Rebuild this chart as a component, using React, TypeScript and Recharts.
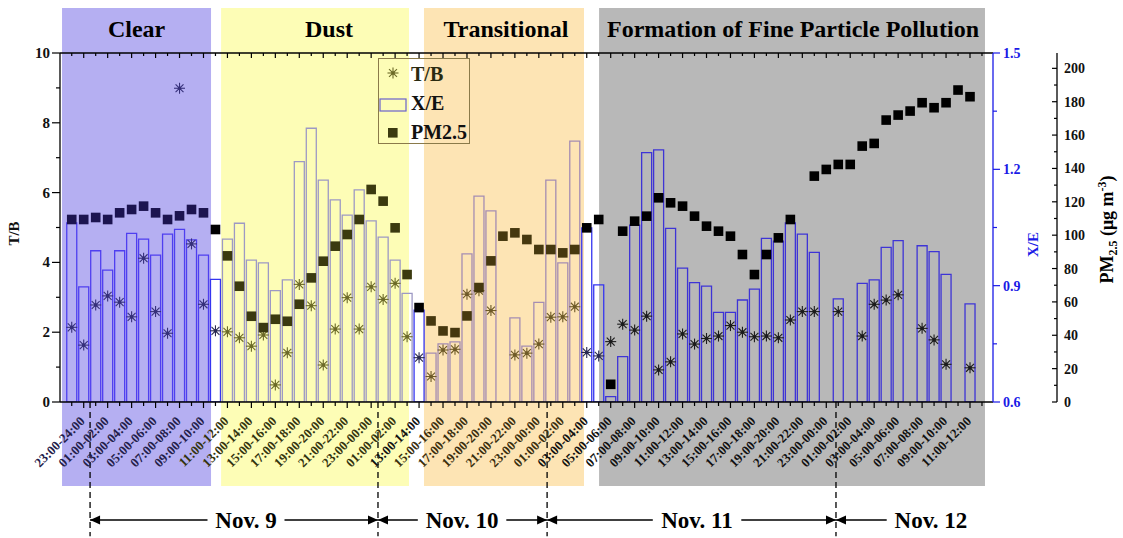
import React from 'react';
import {
  ComposedChart,
  Bar,
  Scatter,
  XAxis,
  YAxis,
  ReferenceArea,
  ReferenceLine,
  Legend,
  Cell,
} from 'recharts';

// ---------- data ----------
const hourLabels: string[] = [
  '22:00-23:00', '23:00-24:00', '00:00-01:00', '01:00-02:00', '02:00-03:00', '03:00-04:00',
  '04:00-05:00', '05:00-06:00', '06:00-07:00', '07:00-08:00', '08:00-09:00', '09:00-10:00',
  '10:00-11:00', '11:00-12:00', '12:00-13:00', '13:00-14:00', '14:00-15:00', '15:00-16:00',
  '16:00-17:00', '17:00-18:00', '18:00-19:00', '19:00-20:00', '20:00-21:00', '21:00-22:00',
  '22:00-23:00', '23:00-00:00', '00:00-01:00', '01:00-02:00', '12:00-13:00', '13:00-14:00',
  '14:00-15:00', '15:00-16:00', '16:00-17:00', '17:00-18:00', '18:00-19:00', '19:00-20:00',
  '20:00-21:00', '21:00-22:00', '22:00-23:00', '23:00-00:00', '00:00-01:00', '01:00-02:00',
  '02:00-03:00', '03:00-04:00', '04:00-05:00', '05:00-06:00', '06:00-07:00', '07:00-08:00',
  '08:00-09:00', '09:00-10:00', '10:00-11:00', '11:00-12:00', '12:00-13:00', '13:00-14:00',
  '14:00-15:00', '15:00-16:00', '16:00-17:00', '17:00-18:00', '18:00-19:00', '19:00-20:00',
  '20:00-21:00', '21:00-22:00', '22:00-23:00', '23:00-00:00', '00:00-01:00', '01:00-02:00',
  '02:00-03:00', '03:00-04:00', '04:00-05:00', '05:00-06:00', '06:00-07:00', '07:00-08:00',
  '08:00-09:00', '09:00-10:00', '10:00-11:00', '11:00-12:00', '12:00-13:00',
];

// X/E ratio (bars, right blue axis)
const xeValues: (number | null)[] = [
  1.062, 0.897, 0.99, 0.94, 0.99, 1.035, 1.02, 0.979, 1.033, 1.045, 1.018, 0.979,
  0.916, 1.02, 1.061, 0.966, 0.959, 0.887, 0.915, 1.22, 1.306, 1.172, 1.121, 1.082,
  1.147, 1.067, 1.025, 0.966, 0.88, 0.837, 0.726, 0.75, 0.755, 0.982, 1.131, 1.093,
  null, 0.817, 0.744, 0.857, 1.172, 0.959, 1.273, 1.049, 0.902, 0.614, 0.717, 1.056,
  1.243, 1.25, 1.048, 0.945, 0.908, 0.899, 0.831, 0.831, 0.863, 0.891, 1.022, 1.015,
  1.062, 1.033, 0.986, null, 0.866, null, 0.906, 0.915, 0.999, 1.016, null, 1.003,
  0.988, 0.929, null, 0.853, null,
];

// T/B ratio (stars, left axis)
const tbValues: (number | null)[] = [
  2.14, 1.63, 2.78, 3.04, 2.86, 2.44, 4.12, 2.59, 1.97, 8.99, 4.53, 2.8,
  2.04, 2.01, 1.84, 1.6, 1.92, 0.49, 1.41, 3.37, 2.76, 1.06, 2.09, 2.99,
  2.09, 3.3, 2.94, 3.4, 1.87, 1.27, 0.73, 1.49, 1.51, 3.09, 3.19, 2.62,
  null, 1.35, 1.4, 1.66, 2.43, 2.44, 2.73, 1.42, 1.32, 1.73, 2.23, 2.06,
  2.46, 0.92, 1.15, 1.95, 1.66, 1.82, 1.89, 2.19, 2.0, 1.87, 1.89, 1.84,
  2.35, 2.59, 2.59, null, 2.59, null, 1.89, 2.8, 2.92, 3.07, null, 2.11,
  1.78, 1.08, null, 0.98, null,
];

// PM2.5 (squares, far-right axis, ug m-3)
const pmValues: (number | null)[] = [
  109.4, 109.4, 110.6, 109.4, 113.4, 115.4, 117.4, 113.4, 109.4, 111.6, 115.4, 113.4,
  103.4, 87.6, 69.4, 51.4, 44.6, 49.6, 48.4, 58.6, 74.4, 84.4, 93.4, 100.4,
  109.4, 127.4, 120.4, 104.4, 76.4, 56.6, 48.6, 42.6, 41.6, 51.6, 68.6, 84.6,
  99.4, 101.4, 97.4, 91.4, 91.4, 89.4, 91.4, 104.4, 109.4, 10.6, 102.4, 108.4,
  111.4, 122.4, 119.4, 117.4, 111.4, 105.4, 102.4, 99.4, 88.4, 76.4, 88.4, 98.4,
  109.4, null, 135.4, 139.4, 142.4, 142.4, 153.4, 155.0, 169.0, 172.0, 174.4, 179.4,
  176.4, 179.4, 187.0, 183.0, null,
];

const tbTicks = [0, 1, 2, 3, 4, 5, 6, 7, 8, 9, 10];
const xeTicks = [0.6, 0.75, 0.9, 1.05, 1.2, 1.35, 1.5];
const pmTicks = [0, 10, 20, 30, 40, 50, 60, 70, 80, 90, 100, 110, 120, 130, 140, 150, 160, 170, 180, 190, 200];
const xTicks = hourLabels.map((_, i) => i);

// episodes (index ranges on the hourly axis)
const episodes = [
  { name: 'Clear', from: -0.81, to: 11.63, dx: 0, key: 'clear' },
  { name: 'Dust', from: 12.47, to: 28.16, dx: 14, key: 'dust' },
  { name: 'Transitional', from: 29.41, to: 42.77, dx: 2, key: 'trans' },
  { name: 'Formation of Fine Particle Pollution', from: 44.03, to: 76.25, dx: 1, key: 'form' },
];

const dayMarks = [
  { label: 'Nov. 9', from: 1.53, to: 25.57, textAt: 14.55, left: true, right: true },
  { label: 'Nov. 10', from: 25.57, to: 39.69, textAt: 32.59, left: true, right: true },
  { label: 'Nov. 11', from: 39.69, to: 63.81, textAt: 52.21, left: true, right: true },
  { label: 'Nov. 12', from: 63.81, to: 71.74, textAt: 71.74, left: true, right: false },
];
const dayBoundaries = [1.53, 25.57, 39.69, 63.81];

// ---------- styles ----------
const SERIF = '"Liberation Serif", "Times New Roman", serif';
const palette: Record<string, { bg: string; bar: string; star: string; sq: string; txt: string }> = {
  clear: { bg: '#b5aff2', bar: '#4f3ff0', star: '#36307a', sq: '#1c1450', txt: '#23204a' },
  dust: { bg: '#fdfdb6', bar: '#9d99c4', star: '#6c6a28', sq: '#3b3a0f', txt: '#34340e' },
  trans: { bg: '#fde4b4', bar: '#a58db2', star: '#6e5a28', sq: '#46380f', txt: '#3a2e0e' },
  gap: { bg: '#ffffff', bar: '#3535f0', star: '#2a2a50', sq: '#000000', txt: '#111111' },
  form: { bg: '#b8b8b8', bar: '#3e34d6', star: '#1c1c1c', sq: '#000000', txt: '#111111' },
};
const regionOf = (i: number): string => {
  for (const e of episodes) if (i >= e.from && i <= e.to) return e.key;
  return 'gap';
};

const rows = hourLabels.map((hour, i) => ({ i, hour, xe: xeValues[i], tb: tbValues[i], pm: pmValues[i] }));
const barRows = rows.filter((r) => r.xe != null);
const tbPoints = rows.filter((r) => r.tb != null);
const pmPoints = rows.filter((r) => r.pm != null);

// ---------- shapes ----------
const StarShape = (p: any) => {
  const { cx, cy, payload } = p;
  if (cx == null || cy == null) return null;
  const c = palette[regionOf(payload.i)].star;
  const r = 5.5;
  const d = r * 0.72;
  return (
    <g stroke={c} strokeWidth={1.1}>
      <line x1={cx - r} y1={cy} x2={cx + r} y2={cy} />
      <line x1={cx} y1={cy - r} x2={cx} y2={cy + r} />
      <line x1={cx - d} y1={cy - d} x2={cx + d} y2={cy + d} />
      <line x1={cx - d} y1={cy + d} x2={cx + d} y2={cy - d} />
      <circle cx={cx} cy={cy} r={1.3} fill={c} />
    </g>
  );
};

const SquareShape = (p: any) => {
  const { cx, cy, payload } = p;
  if (cx == null || cy == null) return null;
  const c = palette[regionOf(payload.i)].sq;
  const s = 9.6;
  return <rect x={cx - s / 2} y={cy - s / 2} width={s} height={s} fill={c} />;
};

const BottomTick = (p: any) => {
  const { x, y, payload } = p;
  const i = payload.value as number;
  const major = i % 2 === 1;
  const ax = x + 2;
  const ay = y + 20;
  return (
    <g>
      <line x1={x} y1={y} x2={x} y2={y + (major ? 6 : 4)} stroke="#000" strokeWidth={1.2} />
      {major && (
        <text
          x={ax}
          y={ay}
          transform={`rotate(-45 ${ax} ${ay})`}
          textAnchor="end"
          fontSize={13}
          fontWeight="bold"
          fontFamily={SERIF}
          fill={palette[regionOf(i)].txt}
        >
          {hourLabels[i]}
        </text>
      )}
    </g>
  );
};

const TopTick = (p: any) => {
  const { x, y, payload } = p;
  const major = (payload.value as number) % 2 === 1;
  return <line x1={x} y1={y} x2={x} y2={y + (major ? 5 : 3)} stroke="#000" strokeWidth={1.2} />;
};

const LeftTick = (p: any) => {
  const { x, y, payload } = p;
  const v = payload.value as number;
  const major = v % 2 === 0;
  return (
    <g>
      <line x1={x - (major ? 8 : 4)} y1={y} x2={x} y2={y} stroke="#000" strokeWidth={1.2} />
      {major && (
        <text x={x - 10} y={y + 5} textAnchor="end" fontSize={15} fontWeight="bold" fontFamily={SERIF} fill="#111">
          {v}
        </text>
      )}
    </g>
  );
};

const XeTick = (p: any) => {
  const { x, y, payload } = p;
  const v = payload.value as number;
  const major = Math.abs(Math.round(v / 0.3) * 0.3 - v) < 1e-6;
  return (
    <g>
      <line x1={x} y1={y} x2={x + (major ? 7 : 4)} y2={y} stroke="#1a1ae6" strokeWidth={1.2} />
      {major && (
        <text x={x + 10} y={y + 5} textAnchor="start" fontSize={14} fontWeight="bold" fontFamily={SERIF} fill="#1a1ae6">
          {v.toFixed(1)}
        </text>
      )}
    </g>
  );
};

const PmTick = (p: any) => {
  const { x, y, payload } = p;
  const v = payload.value as number;
  const major = v % 20 === 0;
  return (
    <g>
      <line x1={x - (major ? 5 : 3)} y1={y} x2={x} y2={y} stroke="#000" strokeWidth={1.2} />
      {major && (
        <text x={x + 7} y={y + 5} textAnchor="start" fontSize={14} fontWeight="bold" fontFamily={SERIF} fill="#111">
          {v}
        </text>
      )}
    </g>
  );
};

const makeDayArrow = (m: (typeof dayMarks)[number]) => (p: any) => {
  const { x1, x2, y1 } = p;
  if (x1 == null || x2 == null) return null;
  const tx = x1 + ((m.textAt - m.from) / (m.to - m.from)) * (x2 - x1);
  const h = 10;
  const w = 4.5;
  const tw = m.label.length * 11.5;
  return (
    <g>
      <line x1={x1} y1={y1} x2={x2} y2={y1} stroke="#000" strokeWidth={1.6} />
      {m.left && <polygon points={`${x1},${y1} ${x1 + h},${y1 - w} ${x1 + h},${y1 + w}`} fill="#000" />}
      {m.right && <polygon points={`${x2},${y1} ${x2 - h},${y1 - w} ${x2 - h},${y1 + w}`} fill="#000" />}
      <rect x={tx - tw / 2 - 4} y={y1 - 14} width={tw + 8} height={26} fill="#fff" />
      <text x={tx} y={y1 + 8} textAnchor="middle" fontSize={23} fontWeight="bold" fontFamily={SERIF} fill="#000">
        {m.label}
      </text>
    </g>
  );
};

const LegendBox = () => (
  <svg width={92} height={86} style={{ display: 'block' }}>
    <rect x={0.5} y={0.5} width={91} height={85} fill="none" stroke="#8a7a4a" strokeWidth={1} />
    <StarShape cx={15} cy={15} payload={{ i: 20 }} />
    <text x={33} y={23} fontSize={20} fontWeight="bold" fontFamily={SERIF} fill="#2a2a10">T/B</text>
    <rect x={2} y={41} width={26} height={12} fill="none" stroke="#6a62cc" strokeWidth={1.2} />
    <text x={33} y={52} fontSize={20} fontWeight="bold" fontFamily={SERIF} fill="#111">X/E</text>
    <rect x={10} y={70} width={9.6} height={9.6} fill="#3b3a0f" />
    <text x={33} y={81} fontSize={20} fontWeight="bold" fontFamily={SERIF} fill="#111">PM2.5</text>
  </svg>
);

const XE_ID = 'r1xe';
const PM_ID = 'r2pm';

export default function App() {
  return (
    <div style={{ position: 'absolute', left: 0, top: 0, width: 1123, height: 538, background: '#fff' }}>
      <ComposedChart
        width={1123}
        height={538}
        data={barRows}
        margin={{ top: 23, right: 0, bottom: 0, left: 0 }}
      >
        {episodes.map((e) => (
          <ReferenceArea
            key={e.key}
            xAxisId={0}
            yAxisId="tb"
            x1={e.from}
            x2={e.to}
            y1={-2.41}
            y2={11.29}
            ifOverflow="visible"
            fill={palette[e.key].bg}
            fillOpacity={1}
            stroke="none"
            label={(lp: any) => {
              const vb = lp.viewBox || {};
              return (
                <text
                  x={vb.x + vb.width / 2 + e.dx}
                  y={vb.y + 29}
                  textAnchor="middle"
                  fontSize={24}
                  fontWeight="bold"
                  fontFamily={SERIF}
                  fill="#000"
                >
                  {e.name}
                </text>
              );
            }}
          />
        ))}

        <XAxis
          xAxisId={0}
          dataKey="i"
          type="number"
          domain={[-0.98, 76.92]}
          allowDataOverflow
          ticks={xTicks}
          interval={0}
          height={136}
          tickSize={0}
          tickMargin={0}
          tickLine={false}
          axisLine={{ stroke: '#000', strokeWidth: 1.3 }}
          tick={<BottomTick />}
        />
        <XAxis
          xAxisId="top"
          orientation="top"
          dataKey="i"
          type="number"
          domain={[-0.98, 76.92]}
          allowDataOverflow
          ticks={xTicks}
          interval={0}
          height={30}
          tickSize={0}
          tickMargin={0}
          tickLine={false}
          axisLine={{ stroke: '#000', strokeWidth: 1.3 }}
          tick={<TopTick />}
        />
        <YAxis
          yAxisId="tb"
          orientation="left"
          width={60}
          domain={[0, 10]}
          allowDataOverflow
          ticks={tbTicks}
          interval={0}
          tickSize={0}
          tickMargin={0}
          tickLine={false}
          axisLine={{ stroke: '#000', strokeWidth: 1.3 }}
          tick={<LeftTick />}
          label={(lp: any) => {
            const vb = lp.viewBox || {};
            const cx = vb.x + 19;
            const cy = vb.y + vb.height / 2 + 6;
            return (
              <text x={cx} y={cy} transform={`rotate(-90 ${cx} ${cy})`} textAnchor="middle" fontSize={15} fontWeight="bold" fontFamily={SERIF} fill="#111">
                T/B
              </text>
            );
          }}
        />
        <YAxis
          yAxisId={XE_ID}
          orientation="right"
          width={64}
          domain={[0.6, 1.5]}
          allowDataOverflow
          ticks={xeTicks}
          interval={0}
          tickSize={0}
          tickMargin={0}
          tickLine={false}
          axisLine={{ stroke: '#1a1ae6', strokeWidth: 1.3 }}
          tick={<XeTick />}
          label={(lp: any) => {
            const vb = lp.viewBox || {};
            const cx = vb.x + 45;
            const cy = vb.y + vb.height / 2 + 17;
            return (
              <text x={cx} y={cy} transform={`rotate(-90 ${cx} ${cy})`} textAnchor="middle" fontSize={15} fontWeight="bold" fontFamily={SERIF} fill="#1a1ae6">
                X/E
              </text>
            );
          }}
        />
        <YAxis
          yAxisId={PM_ID}
          orientation="right"
          width={66}
          domain={[0, 209.2]}
          allowDataOverflow
          ticks={pmTicks}
          interval={0}
          tickSize={0}
          tickMargin={0}
          tickLine={false}
          axisLine={{ stroke: '#000', strokeWidth: 1.3 }}
          tick={<PmTick />}
          label={(lp: any) => {
            const vb = lp.viewBox || {};
            const cx = vb.x + 56;
            const cy = vb.y + vb.height / 2 + 2;
            return (
              <text x={cx} y={cy} transform={`rotate(-90 ${cx} ${cy})`} textAnchor="middle" fontSize={18} fontWeight="bold" fontFamily={SERIF} fill="#000">
                PM
                <tspan dy={4} fontSize={12}>2.5</tspan>
                <tspan dy={-4}> (μg m</tspan>
                <tspan dy={-7} fontSize={12}>-3</tspan>
                <tspan dy={7}>)</tspan>
              </text>
            );
          }}
        />

        <Bar dataKey="xe" xAxisId={0} yAxisId={XE_ID} barSize={10} fill="none" strokeWidth={1.3} isAnimationActive={false}>
          {barRows.map((r) => (
            <Cell key={r.i} fill="none" stroke={palette[regionOf(r.i)].bar} />
          ))}
        </Bar>
        <Scatter data={tbPoints} dataKey="tb" xAxisId={0} yAxisId="tb" shape={StarShape} isAnimationActive={false} />
        <Scatter data={pmPoints} dataKey="pm" xAxisId={0} yAxisId={PM_ID} shape={SquareShape} isAnimationActive={false} />

        {dayBoundaries.map((b) => (
          <ReferenceLine
            key={`d${b}`}
            xAxisId={0}
            yAxisId="tb"
            segment={[{ x: b, y: 0 }, { x: b, y: -3.85 }]}
            ifOverflow="visible"
            stroke="#000"
            strokeWidth={1.3}
            strokeDasharray="6 4"
          />
        ))}
        {dayMarks.map((m) => (
          <ReferenceLine
            key={m.label}
            xAxisId={0}
            yAxisId="tb"
            segment={[{ x: m.from, y: -3.38 }, { x: m.to, y: -3.38 }]}
            ifOverflow="visible"
            stroke="#000"
            shape={makeDayArrow(m)}
          />
        ))}

        <Legend
          layout="horizontal"
          verticalAlign="middle"
          align="center"
          wrapperStyle={{ left: 378, top: 58, width: 92, height: 86 }}
          content={() => <LegendBox />}
        />
      </ComposedChart>
    </div>
  );
}
